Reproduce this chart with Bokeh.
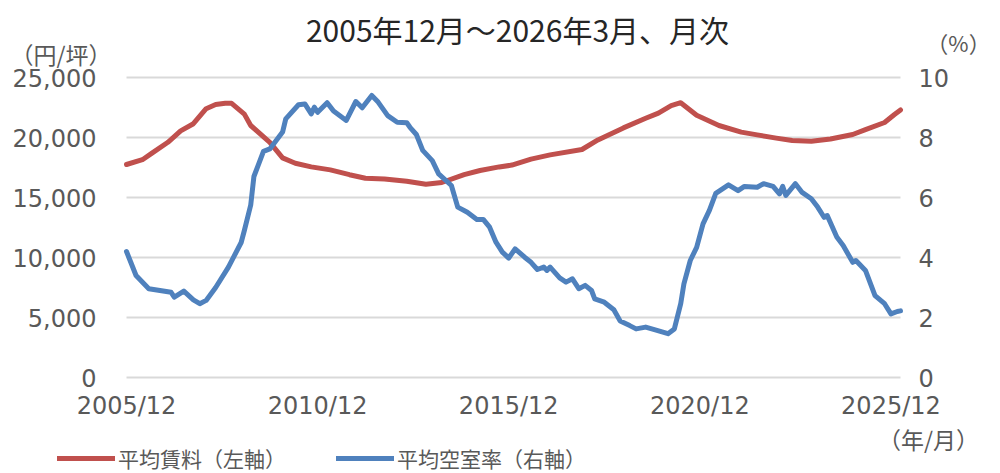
from bokeh.plotting import figure
from bokeh.models import Range1d, Label, Legend, LegendItem
from bokeh.core.properties import value
from bokeh.embed import file_html
from bokeh.resources import INLINE

# ---------------- data ----------------
title_text = "2005年12月～2026年3月、月次"
rent_name = "平均賃料（左軸）"
vac_name = "平均空室率（右軸）"
left_unit = "（円/坪）"
right_unit = "（%）"
x_unit = "（年/月）"

x_tick_labels = ["2005/12", "2010/12", "2015/12", "2020/12", "2025/12"]
rent_ticks = [0, 5000, 10000, 15000, 20000, 25000]
vac_ticks = [0, 2, 4, 6, 8, 10]
last_month = "2026/03"

rent_dates = ["2005/12", "2006/05", "2006/08", "2007/01", "2007/05", "2007/09", "2008/01",
              "2008/04", "2008/07", "2008/09", "2009/01", "2009/03", "2009/09", "2010/01",
              "2010/05", "2010/10", "2011/04", "2011/10", "2012/03", "2012/09", "2013/04",
              "2013/10", "2014/03", "2014/10", "2015/03", "2015/09", "2016/01", "2016/07",
              "2017/01", "2017/11", "2018/04", "2018/12", "2019/07", "2019/11", "2020/03",
              "2020/06", "2020/11", "2021/06", "2022/01", "2022/06", "2022/12", "2023/05",
              "2023/11", "2024/05", "2024/12", "2025/04", "2025/10", "2026/01", "2026/03"]
rent_values = [17750, 18150, 18700, 19600, 20550, 21150, 22400,
               22750, 22850, 22850, 21950, 21000, 19600, 18300,
               17850, 17550, 17300, 16900, 16600, 16550, 16350,
               16100, 16250, 16900, 17250, 17550, 17700, 18200,
               18550, 19000, 19800, 20800, 21600, 22030, 22650,
               22900, 21850, 21000, 20450, 20220, 19950, 19750,
               19680, 19880, 20250, 20650, 21250, 21900, 22300]

vac_dates = ["2005/12", "2006/03", "2006/07", "2007/02", "2007/03", "2007/06", "2007/09",
             "2007/11", "2008/01", "2008/04", "2008/08", "2008/12", "2009/01", "2009/03",
             "2009/04", "2009/07", "2009/09", "2010/01", "2010/02", "2010/06", "2010/08",
             "2010/10", "2010/11", "2010/12", "2011/03", "2011/05", "2011/09", "2011/12",
             "2012/02", "2012/05", "2012/07", "2012/10", "2013/01", "2013/04", "2013/05",
             "2013/07", "2013/09", "2013/12", "2014/02", "2014/06", "2014/08", "2014/11",
             "2015/02", "2015/04", "2015/06", "2015/08", "2015/10", "2015/12", "2016/02",
             "2016/05", "2016/07", "2016/09", "2016/11", "2016/12", "2017/01", "2017/04",
             "2017/06", "2017/08", "2017/10", "2017/12", "2018/02", "2018/03", "2018/06",
             "2018/09", "2018/11", "2019/02", "2019/04", "2019/07", "2019/10", "2020/02",
             "2020/04", "2020/06", "2020/07", "2020/09", "2020/11", "2021/01", "2021/03",
             "2021/05", "2021/09", "2021/12", "2022/02", "2022/06", "2022/08", "2022/11",
             "2023/01", "2023/02", "2023/03", "2023/06", "2023/08", "2023/11", "2024/01",
             "2024/03", "2024/04", "2024/07", "2024/09", "2024/12", "2025/01", "2025/04",
             "2025/07", "2025/10", "2025/12", "2026/02", "2026/03"]
vac_values = [4.20, 3.40, 2.96, 2.84, 2.68, 2.88, 2.59,
              2.46, 2.57, 3.00, 3.68, 4.50, 4.90, 5.75,
              6.70, 7.54, 7.62, 8.18, 8.62, 9.09, 9.12,
              8.79, 9.01, 8.84, 9.16, 8.88, 8.57, 9.20,
              8.99, 9.40, 9.18, 8.73, 8.51, 8.49, 8.34,
              8.10, 7.57, 7.23, 6.79, 6.40, 5.68, 5.51,
              5.27, 5.27, 5.01, 4.51, 4.18, 3.98, 4.29,
              4.01, 3.84, 3.60, 3.68, 3.57, 3.68, 3.32,
              3.18, 3.29, 2.96, 3.07, 2.90, 2.62, 2.51,
              2.26, 1.88, 1.73, 1.62, 1.68, 1.59, 1.46,
              1.62, 2.46, 3.12, 3.90, 4.34, 5.12, 5.57,
              6.14, 6.42, 6.23, 6.37, 6.34, 6.46, 6.37,
              6.12, 6.37, 6.07, 6.46, 6.18, 5.96, 5.68,
              5.34, 5.40, 4.68, 4.40, 3.84, 3.90, 3.57,
              2.73, 2.46, 2.12, 2.20, 2.22]


def month_index(s):
    y, m = s.split("/")
    return (int(y) - 2005) * 12 + int(m) - 12


rent_x = [month_index(d) for d in rent_dates]
vac_x = [month_index(d) for d in vac_dates]
x_ticks = [month_index(d) for d in x_tick_labels]
x_end = month_index(last_month)

# ---------------- layout ----------------
W, H = 1000, 473
XL, XR, YT, YB = 126, 900, 77, 377      # plotting area in canvas pixels
TXT = "#595959"
CJK = "Noto Sans CJK JP"
NUM = "DejaVu Sans"
RED = "#C0504D"
BLUE = "#4F81BD"
R_MAX = rent_ticks[-1]
V_MAX = vac_ticks[-1]


def px2x(px):
    return (px - XL) / (XR - XL) * x_end


def py2y(py):
    return (YB - py) / (YB - YT) * R_MAX


def py2v(py):
    return (YB - py) / (YB - YT) * V_MAX


p = figure(width=W, height=H, output_backend="svg", toolbar_location=None,
           x_axis_location=None, y_axis_location=None,
           x_range=Range1d(px2x(0), px2x(W)), y_range=Range1d(py2y(H), py2y(0)),
           min_border=0, min_border_left=0, min_border_right=0,
           min_border_top=0, min_border_bottom=0,
           background_fill_color="white", border_fill_color="white",
           outline_line_color=None)
p.extra_y_ranges = {"vac": Range1d(py2v(H), py2v(0))}
p.grid.visible = False

# horizontal gridlines at the left-axis ticks
p.segment(x0=[0] * len(rent_ticks), x1=[x_end] * len(rent_ticks),
          y0=rent_ticks, y1=rent_ticks, line_color="#d9d9d9", line_width=2)

# tick labels
p.text(x=[px2x(96)] * len(rent_ticks), y=rent_ticks,
       text=[f"{t:,}" for t in rent_ticks], text_align="right",
       text_baseline="middle", text_font=value(NUM), text_font_size="24px",
       text_color=TXT)
p.text(x=[px2x(918)] * len(vac_ticks), y=vac_ticks, y_range_name="vac",
       text=[str(t) for t in vac_ticks], text_align="left",
       text_baseline="middle", text_font=value(NUM), text_font_size="24px",
       text_color=TXT)
p.text(x=x_ticks, y=[py2y(405)] * len(x_ticks), text=x_tick_labels,
       text_align="center", text_baseline="middle", text_font=value(NUM),
       text_font_size="24px", text_color=TXT)

# lines
r_rent = p.line(rent_x, rent_values, line_color=RED, line_width=5,
                line_join="round", line_cap="round")
r_vac = p.line(vac_x, vac_values, line_color=BLUE, line_width=5,
               line_join="round", line_cap="round", y_range_name="vac")

# texts
p.add_layout(Label(x=px2x(517), y=py2y(28), text=title_text, text_align="center",
                   text_baseline="middle", text_font=CJK, text_font_size="30px",
                   text_color="#262626"))
p.add_layout(Label(x=px2x(111), y=py2y(53), text=left_unit, text_align="right",
                   text_baseline="middle", text_font=CJK, text_font_size="23px",
                   text_color=TXT))
p.add_layout(Label(x=px2x(958), y=py2y(41), text=right_unit, text_align="center",
                   text_baseline="middle", text_font=CJK, text_font_size="22px",
                   text_color=TXT))
p.add_layout(Label(x=px2x(928), y=py2y(438), text=x_unit, text_align="center",
                   text_baseline="middle", text_font=CJK, text_font_size="23px",
                   text_color=TXT))

legend = Legend(items=[LegendItem(label=rent_name, renderers=[r_rent]),
                       LegendItem(label=vac_name, renderers=[r_vac])],
                orientation="horizontal", location=(57, 0),
                glyph_width=58, glyph_height=24, label_standoff=3, spacing=50,
                padding=0, margin=0, border_line_color=None,
                background_fill_alpha=0, label_text_font=CJK,
                label_text_font_size="21px", label_text_color=TXT,
                label_height=24)
p.add_layout(legend)

open("out.html", "w").write(file_html(p, INLINE))
